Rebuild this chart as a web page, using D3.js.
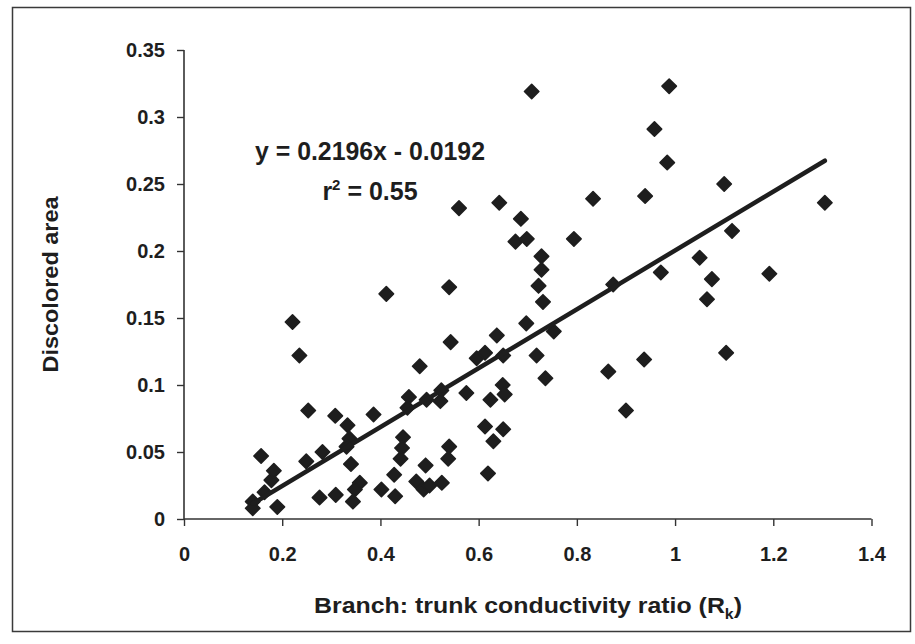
<!DOCTYPE html>
<html>
<head>
<meta charset="utf-8">
<script src="https://cdn.jsdelivr.net/npm/d3@7"></script>
<style>
  html, body { margin: 0; padding: 0; background: #fff; }
  svg { display: block; font-family: "Liberation Sans", Arial, sans-serif; }
</style>
</head>
<body>
<svg id="chart" width="915" height="644"></svg>
<script>
// Branch: trunk conductivity ratio (Rk)
const ratioValues = [
  0.140, 0.140, 0.157, 0.164, 0.178, 0.183, 0.190, 0.221, 0.235, 0.249,
  0.253, 0.276, 0.282, 0.308, 0.309, 0.333, 0.337, 0.331, 0.340, 0.358,
  0.348, 0.344, 0.386, 0.412, 0.402, 0.430, 0.428, 0.446, 0.444, 0.441,
  0.458, 0.455, 0.473, 0.488, 0.500, 0.492, 0.480, 0.494, 0.524, 0.522,
  0.525, 0.540, 0.538, 0.540, 0.543, 0.560, 0.575, 0.596, 0.613, 0.613,
  0.619, 0.624, 0.630, 0.637, 0.642, 0.649, 0.653, 0.650, 0.650, 0.675,
  0.698, 0.686, 0.697, 0.708, 0.718, 0.722, 0.728, 0.728, 0.731, 0.736,
  0.753, 0.794, 0.833, 0.864, 0.874, 0.900, 0.937, 0.939, 0.958, 0.971,
  0.984, 0.988, 1.050, 1.065, 1.075, 1.100, 1.104, 1.116, 1.192, 1.305
];
// Discolored area
const areaValues = [
  0.013, 0.008, 0.047, 0.020, 0.029, 0.036, 0.009, 0.147, 0.122, 0.043,
  0.081, 0.016, 0.050, 0.077, 0.018, 0.070, 0.060, 0.054, 0.041, 0.027,
  0.022, 0.013, 0.078, 0.168, 0.022, 0.017, 0.033, 0.061, 0.053, 0.045,
  0.091, 0.083, 0.028, 0.022, 0.025, 0.040, 0.114, 0.089, 0.096, 0.088,
  0.027, 0.054, 0.045, 0.173, 0.132, 0.232, 0.094, 0.120, 0.124, 0.069,
  0.034, 0.089, 0.058, 0.137, 0.236, 0.100, 0.093, 0.122, 0.067, 0.207,
  0.209, 0.224, 0.146, 0.319, 0.122, 0.174, 0.196, 0.186, 0.162, 0.105,
  0.140, 0.209, 0.239, 0.110, 0.175, 0.081, 0.119, 0.241, 0.291, 0.184,
  0.266, 0.323, 0.195, 0.164, 0.179, 0.250, 0.124, 0.215, 0.183, 0.236
];
const xTicks = [0, 0.2, 0.4, 0.6, 0.8, 1, 1.2, 1.4];
const xTickLabels = ["0", "0.2", "0.4", "0.6", "0.8", "1", "1.2", "1.4"];
const yTicks = [0, 0.05, 0.1, 0.15, 0.2, 0.25, 0.3, 0.35];
const yTickLabels = ["0", "0.05", "0.1", "0.15", "0.2", "0.25", "0.3", "0.35"];
const trendSlope = 0.2196;
const trendIntercept = -0.0192;
const equationText = "y = 0.2196x - 0.0192";
const r2Value = "0.55";

const points = ratioValues.map((v, i) => ({ x: v, y: areaValues[i] }));

const svg = d3.select("#chart");
const ink = "#1e1e1e";

// outer frame
svg.append("rect")
  .attr("x", 12.5).attr("y", 7.5).attr("width", 898).attr("height", 624)
  .attr("fill", "none").attr("stroke", "#3a3a3a").attr("stroke-width", 1.5);

const x = d3.scaleLinear().domain([0, 1.4]).range([184, 871.5]);
const y = d3.scaleLinear().domain([0, 0.35]).range([519, 50]);

// axes
const xAxis = d3.axisBottom(x).tickValues(xTicks).tickSize(7).tickPadding(21)
  .tickFormat((d, i) => xTickLabels[i]);
const yAxis = d3.axisLeft(y).tickValues(yTicks).tickSize(7).tickPadding(12)
  .tickFormat((d, i) => yTickLabels[i]);

const gx = svg.append("g").attr("transform", `translate(0,${y(0)})`).call(xAxis);
const gy = svg.append("g").attr("transform", `translate(${x(0)},0)`).call(yAxis);
[gx, gy].forEach(g => {
  g.selectAll("path.domain").attr("stroke", "#333").attr("stroke-width", 1.6);
  g.selectAll(".tick line").attr("stroke", "#333").attr("stroke-width", 1.4);
  g.selectAll(".tick text")
    .attr("fill", ink)
    .style("font-size", "20px")
    .style("font-weight", "bold")
    .style("font-family", "'Liberation Sans', Arial, sans-serif");
});
// make the domain stop exactly at the end ticks (no outer ticks)
gx.select("path.domain").attr("d", `M${x(0)},0H${x(1.4)}`);
gy.select("path.domain").attr("d", `M0,${y(0)}V${y(0.35)}`);

// points (diamonds)
const h = 7.2;
svg.append("g").selectAll("path")
  .data(points).join("path")
  .attr("d", d => {
    const cx = x(d.x), cy = y(d.y);
    return `M${cx},${cy - h}L${cx + h},${cy}L${cx},${cy + h}L${cx - h},${cy}Z`;
  })
  .attr("fill", ink)
  .attr("stroke", ink)
  .attr("stroke-width", 1.6)
  .attr("stroke-linejoin", "round");

// trend line
const xExt = d3.extent(ratioValues);
svg.append("line")
  .attr("x1", x(xExt[0])).attr("y1", y(trendSlope * xExt[0] + trendIntercept))
  .attr("x2", x(xExt[1])).attr("y2", y(trendSlope * xExt[1] + trendIntercept))
  .attr("stroke", ink).attr("stroke-width", 4.5).attr("stroke-linecap", "round");

// equation
svg.append("text")
  .attr("x", 370).attr("y", 160)
  .attr("text-anchor", "middle")
  .style("font-size", "25px").style("font-weight", "bold").attr("fill", ink)
  .attr("textLength", 230).attr("lengthAdjust", "spacingAndGlyphs")
  .text(equationText);
const r2 = svg.append("text")
  .attr("x", 370).attr("y", 200)
  .attr("text-anchor", "middle")
  .style("font-size", "25px").style("font-weight", "bold").attr("fill", ink);
r2.append("tspan").text("r");
r2.append("tspan").attr("dy", -10).style("font-size", "15px").text("2");
r2.append("tspan").attr("dy", 10).text(" = " + r2Value);

// x axis title
const xt = svg.append("text")
  .attr("x", 528).attr("y", 613)
  .attr("text-anchor", "middle")
  .style("font-size", "22px").style("font-weight", "bold").attr("fill", ink)
  .attr("textLength", 428).attr("lengthAdjust", "spacingAndGlyphs");
xt.append("tspan").text("Branch: trunk conductivity ratio (R");
xt.append("tspan").attr("dy", 6).style("font-size", "14px").text("k");
xt.append("tspan").attr("dy", -6).text(")");

// y axis title
svg.append("text")
  .attr("transform", `translate(58,${(y(0) + y(0.35)) / 2}) rotate(-90)`)
  .attr("text-anchor", "middle")
  .style("font-size", "22px").style("font-weight", "bold").attr("fill", ink)
  .attr("textLength", 176).attr("lengthAdjust", "spacingAndGlyphs")
  .text("Discolored area");
</script>
</body>
</html>
